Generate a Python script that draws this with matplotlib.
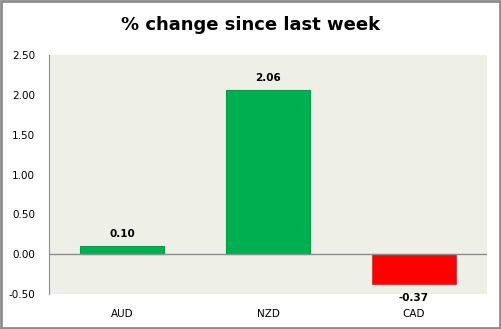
import matplotlib.pyplot as plt
from matplotlib.patches import Rectangle

currencies = ['AUD', 'NZD', 'CAD']
changes = [0.10, 2.06, -0.37]
ticks = [-0.5, 0.0, 0.5, 1.0, 1.5, 2.0, 2.5]

plt.rcParams['font.family'] = ['DejaVu Sans']

fig = plt.figure(figsize=(5.02, 3.29), dpi=100)
ax = fig.add_axes([0.0976, 0.1064, 0.8725, 0.7264])
ax.set_facecolor('#eef0e8')

colors = ['#00b050' if v >= 0 else '#ff0000' for v in changes]
x = list(range(len(currencies)))
ax.bar(x, changes, width=0.57, color=colors, edgecolor=['#00a04a' if v >= 0 else '#d04040' for v in changes],
       linewidth=0.8, zorder=2)

# value labels above positive bars, below negative ones
for xi, v in zip(x, changes):
    if v >= 0:
        ax.annotate(f'{v:.2f}', (xi, v), xytext=(0, 5), textcoords='offset points',
                    ha='center', va='bottom', fontsize=7.5, fontweight='bold')
    else:
        ax.annotate(f'{v:.2f}', (xi, v), xytext=(0, -7), textcoords='offset points',
                    ha='center', va='top', fontsize=7.5, fontweight='bold', annotation_clip=False)

ax.axhline(0, color='#8c8c8c', linewidth=1, zorder=3)
ax.set_xlim(-0.5, 2.5)
ax.set_ylim(-0.5, 2.5)
ax.set_yticks(ticks)
ax.set_yticklabels([f'{t:.2f}' for t in ticks], fontsize=7.5)
ax.set_xticks(x)
ax.set_xticklabels(currencies, fontsize=7.5)
ax.tick_params(axis='both', length=0, pad=10)
ax.tick_params(axis='x', pad=11)
for side in ['top', 'right', 'bottom']:
    ax.spines[side].set_visible(False)
ax.spines['left'].set_color('#8c8c8c')

fig.suptitle('% change since last week', y=0.95, fontsize=13, fontweight='bold')

fig.patches.append(Rectangle((0.002, 0.003), 0.995, 0.994, transform=fig.transFigure,
                             fill=False, edgecolor='#8c8c8c', linewidth=2))

fig.savefig('out.png', dpi=100)
